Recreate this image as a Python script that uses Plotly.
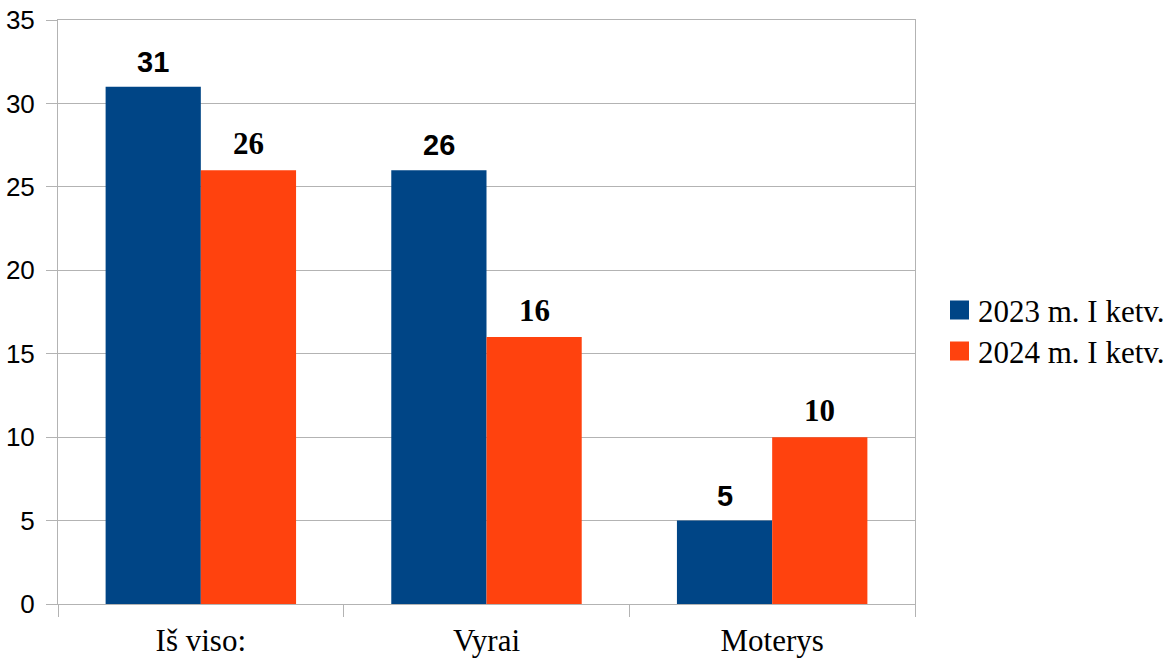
import plotly.graph_objects as go

categories = ["Iš viso:", "Vyrai", "Moterys"]
series_names = ["2023 m. I ketv.", "2024 m. I ketv."]
values_2023 = [31, 26, 5]
values_2024 = [26, 16, 10]
y_ticks = [0, 5, 10, 15, 20, 25, 30, 35]

BLUE = "#004586"
ORANGE = "#ff420e"
GRID = "#b3b3b3"
SERIF = "Liberation Serif"
SANS = "Liberation Sans"
colors = [BLUE, ORANGE]

W, H = 1176, 659
ML, MR, MT, MB = 58, 261, 20, 55
PW, PH = W - ML - MR, H - MT - MB

fig = go.Figure()
fig.add_trace(go.Bar(x=categories, y=values_2023, name=series_names[0], showlegend=False,
                     marker=dict(color=BLUE, line=dict(width=0))))
fig.add_trace(go.Bar(x=categories, y=values_2024, name=series_names[1], showlegend=False,
                     marker=dict(color=ORANGE, line=dict(width=0))))

annotations = []
for i, v in enumerate(values_2023):
    annotations.append(dict(x=i - 1/6, y=v, xref="x", yref="y", text=str(v),
                            showarrow=False, yanchor="bottom", yshift=7,
                            font=dict(family=SANS, size=29, color="black", weight="bold")))
for i, v in enumerate(values_2024):
    annotations.append(dict(x=i + 1/6, y=v, xref="x", yref="y", text=str(v),
                            showarrow=False, yanchor="bottom", yshift=7,
                            font=dict(family=SERIF, size=31, color="black", weight="bold")))

# legend drawn as squares + labels (paper coordinates)
def px_x(p):
    return (p - ML) / PW

def px_y(p):
    return 1 - (p - MT) / PH

shapes = []
legend_centers = [310, 351]
for name, col, cy in zip(series_names, colors, legend_centers):
    shapes.append(dict(type="rect", xref="paper", yref="paper",
                       x0=px_x(950), x1=px_x(969), y0=px_y(cy + 9.5), y1=px_y(cy - 9.5),
                       fillcolor=col, line=dict(width=0)))
    annotations.append(dict(x=px_x(976), y=px_y(cy + 1), xref="paper", yref="paper",
                            text=name, showarrow=False, xanchor="left", yanchor="middle",
                            font=dict(family=SERIF, size=31, color="black")))

fig.update_layout(
    width=W, height=H,
    margin=dict(l=ML, r=MR, t=MT, b=MB, autoexpand=False),
    paper_bgcolor="white", plot_bgcolor="white",
    barmode="group", bargap=1/3, bargroupgap=0,
    annotations=annotations, shapes=shapes,
    showlegend=False,
    xaxis=dict(type="category", tickson="boundaries", ticks="outside", ticklen=12,
               tickcolor=GRID, tickwidth=1, showgrid=False, showline=True,
               linecolor=GRID, linewidth=1, mirror=True, automargin=False,
               ticklabelstandoff=9,
               tickfont=dict(family=SERIF, size=31, color="black")),
    yaxis=dict(range=[0, 35], tickvals=y_ticks, ticks="outside", ticklen=11,
               tickcolor=GRID, tickwidth=1, showgrid=True, gridcolor=GRID, gridwidth=1,
               showline=True, linecolor=GRID, linewidth=1, mirror=True,
               zeroline=False, ticklabelstandoff=6, automargin=False,
               tickfont=dict(family=SANS, size=26, color="black")),
)

fig.write_html("out.html", config={"displayModeBar": False},
               post_script="document.body.style.margin='0px';document.body.style.overflow='hidden';")
